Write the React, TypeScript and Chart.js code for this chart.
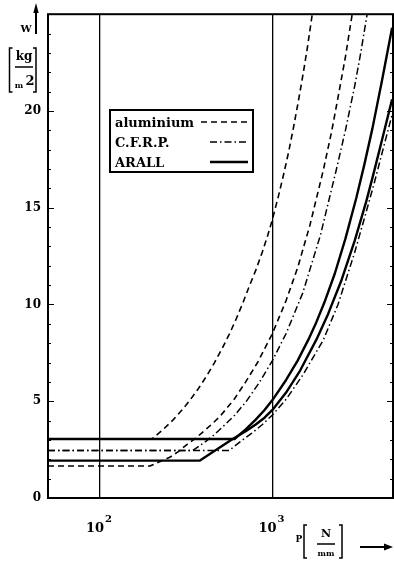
import React, { useEffect, useRef } from "react";
import { Chart, registerables } from "chart.js";

Chart.register(...registerables);

// ---- data ----
const X_TICKS = [100, 1000];
const Y_LABELS = [0, 5, 10, 15, 20];
const LEGEND_LABELS = ["aluminium", "C.F.R.P.", "ARALL"];

// aluminium, configuration 1 (dashed)
const AL1_P = [50, 200, 230, 264, 300, 331, 370, 415, 460, 514, 565, 619, 680, 737, 800, 875, 940, 1000, 1080, 1159, 1240, 1321, 1410, 1510, 1600, 1702];
const AL1_W = [3.05, 3.05, 3.5, 4.01, 4.56, 5.03, 5.62, 6.3, 6.97, 7.77, 8.5, 9.29, 10.17, 10.98, 11.76, 12.73, 13.58, 14.4, 15.55, 16.69, 17.86, 19.09, 20.45, 21.97, 23.36, 25];
// aluminium, configuration 2 (dashed)
const AL2_P = [50, 195, 225, 254, 285, 318, 360, 400, 450, 500, 600, 700, 820, 1000, 1200, 1400, 1650, 1973, 2200, 2400, 2650, 2900];
const AL2_W = [1.65, 1.65, 1.9, 2.1, 2.4, 2.75, 3.1, 3.45, 3.85, 4.25, 5.1, 6.0, 7.0, 8.5, 10.2, 11.9, 14.1, 16.95, 18.9, 20.7, 22.8, 25];
// C.F.R.P., configuration 1 (dash-dot)
const CF1_P = [50, 345, 400, 450, 514, 600, 700, 830, 1000, 1200, 1500, 1900, 2344, 2650, 3000, 3250, 3540];
const CF1_W = [2.45, 2.45, 2.85, 3.2, 3.67, 4.25, 4.95, 5.9, 7.1, 8.5, 10.6, 13.6, 16.95, 19.0, 21.3, 23.0, 25];
// C.F.R.P., configuration 2 (dash-dot)
const CF2_P = [50, 560, 671, 760, 875, 1000, 1200, 1500, 1973, 2400, 3000, 3450, 3900, 4400, 4940];
const CF2_W = [2.45, 2.45, 3.0, 3.35, 3.8, 4.29, 5.1, 6.35, 8.17, 10.0, 12.7, 14.6, 16.3, 18.1, 19.8];
// ARALL, configuration 1 (solid)
const AR1_P = [50, 603, 700, 800, 900, 1000, 1200, 1400, 1613, 1800, 2000, 2300, 2650, 3063, 3405, 3800, 4300, 4940];
const AR1_W = [3.05, 3.05, 3.55, 4.05, 4.55, 5.06, 6.1, 7.1, 8.17, 9.1, 10.1, 11.6, 13.4, 15.5, 17.2, 19.1, 21.5, 24.3];
// ARALL, configuration 2 (solid)
const AR2_P = [50, 378, 588, 700, 800, 900, 1000, 1200, 1450, 1795, 2100, 2500, 3000, 3493, 3840, 4400, 4940];
const AR2_W = [1.93, 1.93, 3.05, 3.45, 3.8, 4.15, 4.55, 5.45, 6.6, 8.17, 9.5, 11.2, 13.3, 15.3, 16.7, 18.8, 20.6];

const pts = (p: number[], w: number[]) => p.map((x, i) => ({ x, y: w[i] }));

const FONT = '"DejaVu Serif"';
const DASH = [6, 4];
const DASH_DOT = [7, 3, 1.5, 3];

export default function App() {
  const ref = useRef<HTMLCanvasElement>(null);

  useEffect(() => {
    if (!ref.current) return;
    const mk = (label: string, p: number[], w: number[], dash: number[], width: number) => ({
      label,
      data: pts(p, w),
      borderColor: "#000",
      borderWidth: width,
      borderDash: dash,
      borderJoinStyle: "round",
      pointRadius: 0,
      fill: false,
      tension: 0,
    });

    const datasets = [
      mk(LEGEND_LABELS[0], AL1_P, AL1_W, DASH, 1.6),
      mk(LEGEND_LABELS[0], AL2_P, AL2_W, DASH, 1.6),
      mk(LEGEND_LABELS[1], CF1_P, CF1_W, DASH_DOT, 1.5),
      mk(LEGEND_LABELS[1], CF2_P, CF2_W, DASH_DOT, 1.5),
      mk(LEGEND_LABELS[2], AR1_P, AR1_W, [], 2.4),
      mk(LEGEND_LABELS[2], AR2_P, AR2_W, [], 2.4),
    ];

    const framePlugin = {
      id: "frame",
      afterDraw(chart: any) {
        const { ctx, chartArea, scales } = chart;
        const { left, right, top, bottom } = chartArea;
        const y = scales.y;
        const x = scales.x;
        ctx.save();
        ctx.strokeStyle = "#000";
        ctx.lineWidth = 2;
        ctx.strokeRect(left, top, right - left, bottom - top);
        ctx.lineWidth = 1;
        for (let v = 1; v < 25; v++) {
          const py = Math.round(y.getPixelForValue(v)) + 0.5;
          const len = v % 5 === 0 ? 6 : 3;
          ctx.beginPath();
          ctx.moveTo(left, py);
          ctx.lineTo(left + len, py);
          ctx.moveTo(right, py);
          ctx.lineTo(right - len, py);
          ctx.stroke();
        }
        // x labels: 10 with raised exponent
        ctx.fillStyle = "#000";
        x.ticks.forEach((t: any) => {
          const px = x.getPixelForValue(t.value);
          const e = Math.round(Math.log10(t.value));
          ctx.font = `bold 13px ${FONT}`;
          ctx.textAlign = "center";
          ctx.textBaseline = "alphabetic";
          ctx.fillText("10", px - 5, 532);
          ctx.font = `bold 10px ${FONT}`;
          ctx.textAlign = "left";
          ctx.fillText(String(e), px + 5, 522);
        });

        // y axis title: arrow, W, [kg/m2]
        ctx.lineWidth = 2;
        ctx.beginPath();
        ctx.moveTo(36, 34);
        ctx.lineTo(36, 10);
        ctx.stroke();
        ctx.beginPath();
        ctx.moveTo(36, 3);
        ctx.lineTo(33.3, 13);
        ctx.lineTo(38.7, 13);
        ctx.closePath();
        ctx.fill();
        ctx.font = `bold 10px ${FONT}`;
        ctx.textAlign = "center";
        ctx.fillText("W", 26, 32);
        ctx.lineWidth = 1.5;
        ctx.beginPath();
        ctx.moveTo(12.5, 48);
        ctx.lineTo(9.5, 48);
        ctx.lineTo(9.5, 92);
        ctx.lineTo(12.5, 92);
        ctx.moveTo(33, 48);
        ctx.lineTo(36, 48);
        ctx.lineTo(36, 92);
        ctx.lineTo(33, 92);
        ctx.moveTo(15, 67);
        ctx.lineTo(33, 67);
        ctx.stroke();
        ctx.font = `bold 12px ${FONT}`;
        ctx.fillText("kg", 24, 60);
        ctx.font = `bold 8px ${FONT}`;
        ctx.fillText("m", 19, 88);
        ctx.font = `bold 13px ${FONT}`;
        ctx.fillText("2", 30, 85);

        // x axis title: P [N/mm] and arrow
        ctx.font = `bold 9px ${FONT}`;
        ctx.fillText("P", 299, 542);
        ctx.beginPath();
        ctx.moveTo(307, 525);
        ctx.lineTo(304, 525);
        ctx.lineTo(304, 558);
        ctx.lineTo(307, 558);
        ctx.moveTo(339, 525);
        ctx.lineTo(342, 525);
        ctx.lineTo(342, 558);
        ctx.lineTo(339, 558);
        ctx.moveTo(317, 544);
        ctx.lineTo(335, 544);
        ctx.stroke();
        ctx.font = `bold 11px ${FONT}`;
        ctx.fillText("N", 326, 537);
        ctx.font = `bold 8px ${FONT}`;
        ctx.fillText("mm", 326, 556);
        ctx.lineWidth = 2;
        ctx.beginPath();
        ctx.moveTo(360, 547);
        ctx.lineTo(386, 547);
        ctx.stroke();
        ctx.beginPath();
        ctx.moveTo(393, 547);
        ctx.lineTo(384, 543.5);
        ctx.lineTo(384, 550.5);
        ctx.closePath();
        ctx.fill();

        // legend box
        ctx.lineWidth = 2;
        ctx.strokeRect(110, 110, 143, 62);
        ctx.font = `bold 13px ${FONT}`;
        ctx.textAlign = "left";
        const rows = [
          { y: 127, dash: DASH, w: 1.6, x0: 201 },
          { y: 147, dash: DASH_DOT, w: 1.5, x0: 210 },
          { y: 167, dash: [] as number[], w: 2.4, x0: 210 },
        ];
        rows.forEach((r, i) => {
          ctx.fillText(LEGEND_LABELS[i], 115, r.y);
          ctx.save();
          ctx.setLineDash(r.dash);
          ctx.lineWidth = r.w;
          ctx.beginPath();
          ctx.moveTo(r.x0, r.y - 5);
          ctx.lineTo(248, r.y - 5);
          ctx.stroke();
          ctx.restore();
        });
        ctx.restore();
      },
    };

    const chart = new Chart(ref.current, {
      type: "line",
      data: { datasets: datasets as any },
      options: {
        animation: false,
        responsive: false,
        devicePixelRatio: 1,
        layout: { padding: { top: 14, right: 1, left: 0, bottom: 0 } },
        plugins: { legend: { display: false }, tooltip: { enabled: false } },
        scales: {
          x: {
            type: "logarithmic",
            min: 50,
            max: 5000,
            afterBuildTicks: (s: any) => {
              s.ticks = X_TICKS.map((v) => ({ value: v }));
            },
            afterFit: (s: any) => {
              s.height = 64;
            },
            ticks: { display: false },
            grid: { color: "#000", lineWidth: 1.3, drawTicks: false },
            border: { display: false },
          },
          y: {
            type: "linear",
            min: 0,
            max: 25,
            afterBuildTicks: (s: any) => {
              s.ticks = Y_LABELS.map((v) => ({ value: v }));
            },
            afterFit: (s: any) => {
              s.width = 48;
            },
            ticks: {
              color: "#000",
              padding: 7,
              font: { family: "DejaVu Serif", weight: "bold", size: 12 },
            },
            grid: { display: false, drawTicks: false },
            border: { display: false },
          },
        },
      } as any,
      plugins: [framePlugin],
    });
    return () => chart.destroy();
  }, []);

  return (
    <div style={{ position: "fixed", left: 0, top: 0, width: 394, height: 562, background: "#fff" }}>
      <canvas ref={ref} width={394} height={562} style={{ width: 394, height: 562, display: "block" }} />
    </div>
  );
}
